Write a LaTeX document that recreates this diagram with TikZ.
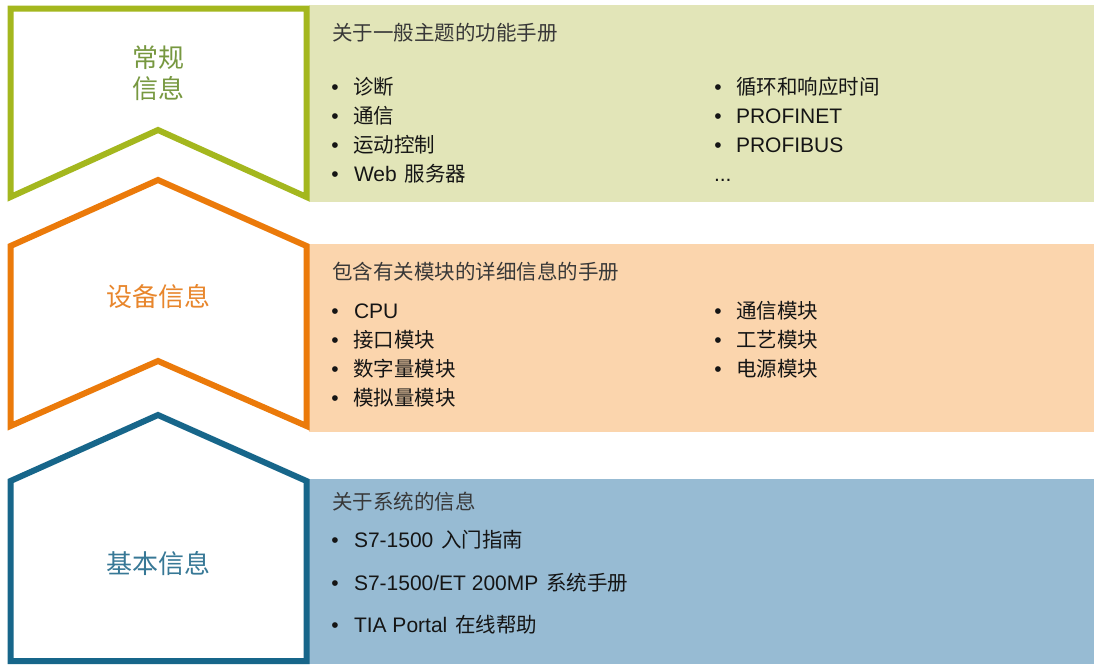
\documentclass[tikz,border=0pt]{standalone}
\usepackage{fontspec}
\setmainfont{Liberation Sans}
\newfontfamily\cjk{Noto Sans CJK SC}
\definecolor{genline}{HTML}{A4B71E}
\definecolor{genpanel}{HTML}{E2E5B8}
\definecolor{gentext}{HTML}{779840}
\definecolor{devline}{HTML}{EB7A0A}
\definecolor{devpanel}{HTML}{FBD5AD}
\definecolor{devtext}{HTML}{E8862C}
\definecolor{basline}{HTML}{17668A}
\definecolor{baspanel}{HTML}{97BBD3}
\definecolor{bastext}{HTML}{377896}
\definecolor{leadgray}{HTML}{383838}
\definecolor{entryblack}{HTML}{151515}
\newcommand\wordgap{\hspace{8pt}}
\begin{document}
\begin{tikzpicture}[x=1pt,y=-1pt,line width=6pt,line join=miter,
	bigtitle/.style={inner sep=0pt,align=center,font=\cjk\fontsize{26}{31.5}\selectfont},
	lead/.style={anchor=base west,inner sep=0pt,text=leadgray,font=\cjk\fontsize{20.5}{20.5}\selectfont},
	entry/.style={anchor=base west,inner sep=0pt,text=entryblack,font=\fontsize{21}{21}\selectfont},
	bull/.style={anchor=base,inner sep=0pt,text=entryblack,font=\fontsize{21}{21}\selectfont}]
	\fill[white] (0,0) rectangle (1094,664);
	% panels
	\fill[genpanel] (309,5) rectangle (1094,202);
	\fill[devpanel] (309,244) rectangle (1094,432);
	\fill[baspanel] (309,479) rectangle (1094,664);
	% outlines
	\draw[genline] (10.5,8.5) -- (306.5,8.5) -- (306.5,197) -- (158,130) -- (10.5,197) -- cycle;
	\draw[devline] (10.5,246) -- (158,180) -- (306.5,246) -- (306.5,426) -- (158,361) -- (10.5,426) -- cycle;
	\draw[basline] (10.5,481) -- (158,415) -- (306.5,481) -- (306.5,661) -- (10.5,661) -- cycle;
	% titles
	\node[bigtitle,text=gentext] (gentitle) at (158,73) {常规\\信息};
	\node[bigtitle,text=devtext] (devtitle) at (158,297) {设备信息};
	\node[bigtitle,text=bastext] (bastitle) at (158,563.5) {基本信息};
	% general
	\node[lead] (genlead) at (329,40) {关于一般主题的功能手册};
	\node[bull] (gb1) at (335,94) {•};
	\node[entry] (ge1) at (350,94) {\cjk\fontsize{20.5}{20.5}\selectfont 诊断};
	\node[bull] (gb2) at (335,123) {•};
	\node[entry] (ge2) at (350,123) {\cjk\fontsize{20.5}{20.5}\selectfont 通信};
	\node[bull] (gb3) at (335,152) {•};
	\node[entry] (ge3) at (350,152) {\cjk\fontsize{20.5}{20.5}\selectfont 运动控制};
	\node[bull] (gb4) at (335,181) {•};
	\node[entry] (ge4) at (351,181) {Web\wordgap{\cjk\fontsize{20.5}{20.5}\selectfont 服务器}};
	\node[bull] (gb5) at (718,94) {•};
	\node[entry] (ge5) at (733,94) {\cjk\fontsize{20.5}{20.5}\selectfont 循环和响应时间};
	\node[bull] (gb6) at (718,123) {•};
	\node[entry] (ge6) at (733,123) {PROFINET};
	\node[bull] (gb7) at (718,152) {•};
	\node[entry] (ge7) at (733,152) {PROFIBUS};
	\node[entry] (ge8) at (711,181) {...};
	% device
	\node[lead] (devlead) at (329,279) {包含有关模块的详细信息的手册};
	\node[bull] (db1) at (335,318) {•};
	\node[entry] (de1) at (351,318) {CPU};
	\node[bull] (db2) at (335,347) {•};
	\node[entry] (de2) at (350,347) {\cjk\fontsize{20.5}{20.5}\selectfont 接口模块};
	\node[bull] (db3) at (335,376) {•};
	\node[entry] (de3) at (350,376) {\cjk\fontsize{20.5}{20.5}\selectfont 数字量模块};
	\node[bull] (db4) at (335,405) {•};
	\node[entry] (de4) at (350,405) {\cjk\fontsize{20.5}{20.5}\selectfont 模拟量模块};
	\node[bull] (db5) at (718,318) {•};
	\node[entry] (de5) at (733,318) {\cjk\fontsize{20.5}{20.5}\selectfont 通信模块};
	\node[bull] (db6) at (718,347) {•};
	\node[entry] (de6) at (733,347) {\cjk\fontsize{20.5}{20.5}\selectfont 工艺模块};
	\node[bull] (db7) at (718,376) {•};
	\node[entry] (de7) at (733,376) {\cjk\fontsize{20.5}{20.5}\selectfont 电源模块};
	% basic
	\node[lead] (baslead) at (329,509) {关于系统的信息};
	\node[bull] (bb1) at (335,547) {•};
	\node[entry] (be1) at (351,547) {S7-1500\wordgap{\cjk\fontsize{20.5}{20.5}\selectfont 入门指南}};
	\node[bull] (bb2) at (335,590) {•};
	\node[entry] (be2) at (351,590) {S7-1500/ET 200MP\wordgap{\cjk\fontsize{20.5}{20.5}\selectfont 系统手册}};
	\node[bull] (bb3) at (335,632) {•};
	\node[entry] (be3) at (351,632) {TIA Portal\wordgap{\cjk\fontsize{20.5}{20.5}\selectfont 在线帮助}};
\end{tikzpicture}
\end{document}
